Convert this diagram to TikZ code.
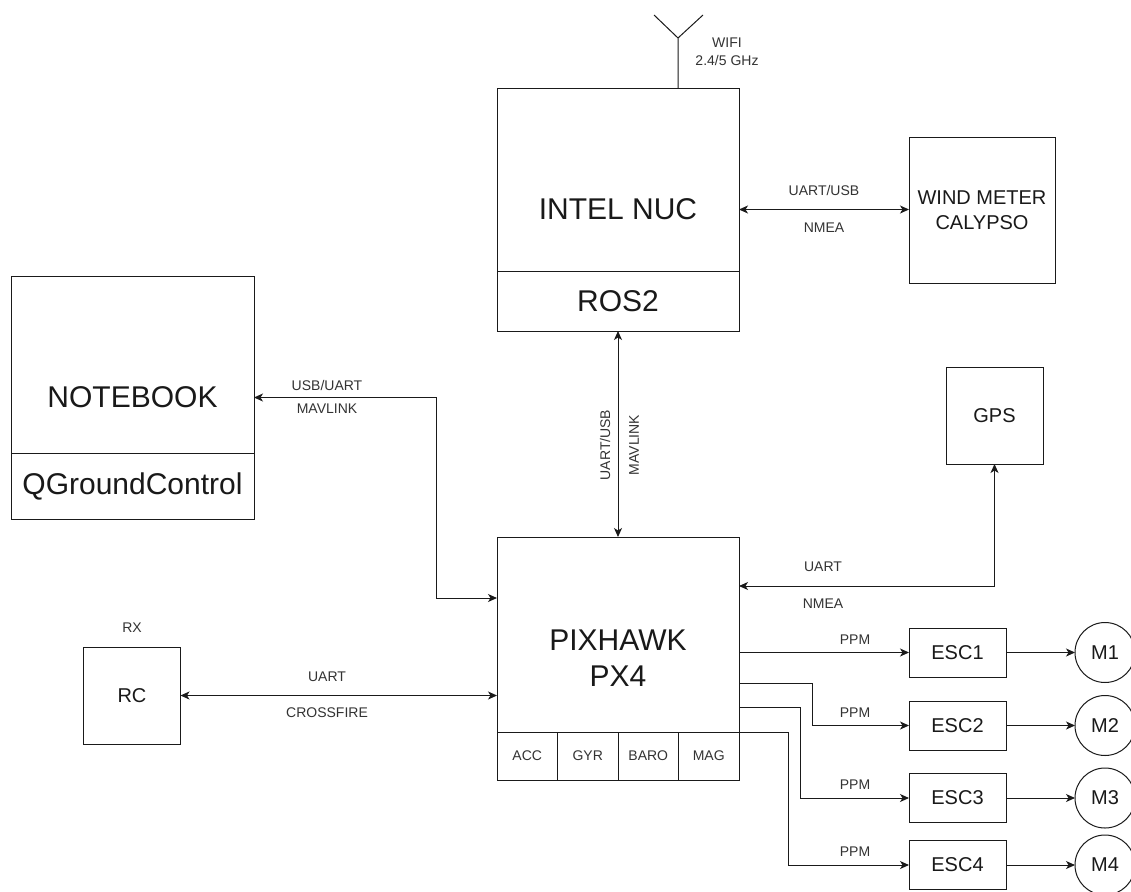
\documentclass[tikz,border=0pt]{standalone}
\usepackage{fontspec}
\setmainfont{Liberation Sans}
\usetikzlibrary{positioning, arrows.meta, calc}
\definecolor{wire}{HTML}{1A1A1A}
\definecolor{labeltext}{HTML}{333333}
\tikzset{
  block/.style={
    draw=wire,
    line width=1pt,
    fill=white,
    outer sep=0pt,
    inner sep=0pt,
    align=center,
    text=black!90
  },
  bigtext/.style={font=\fontsize{30}{36}\selectfont},
  midtext/.style={font=\fontsize{20}{25}\selectfont},
  celltext/.style={font=\fontsize{14}{17}\selectfont, text=labeltext},
  wirelabel/.style={
    font=\fontsize{14}{18}\selectfont,
    text=labeltext,
    inner sep=0pt,
    align=center
  },
  motor/.style={block, circle, midtext, minimum size=60pt},
  link/.style={-{Stealth[length=9pt, width=8pt, inset=2.5pt]}, line width=1pt, draw=wire},
  duplex/.style={{Stealth[length=9pt, width=8pt, inset=2.5pt]}-{Stealth[length=9pt, width=8pt, inset=2.5pt]}, line width=1pt, draw=wire}
}

\begin{document}
\begin{tikzpicture}[x=1pt, y=-1pt]
  \fill[white] (0,0) rectangle (1131,891);
  \useasboundingbox (0,0) rectangle (1131,891);

  % companion computer
  \node[block, bigtext, minimum width=242pt, minimum height=243pt] (nuc) at (618,209.5) {INTEL NUC};
  \node[block, bigtext, minimum width=242pt, minimum height=60pt, anchor=south] (ros) at (nuc.south) {ROS2};
  \node[block, midtext, minimum size=146pt] (wind) at (982,210) {WIND METER\\CALYPSO};

  \coordinate (ant) at (678,38);
  \draw[line width=1pt, wire] (ant |- nuc.north) -- (ant) -- ++(-24,-23) (ant) -- ++(25,-23);
  \node[wirelabel] (wifi) at (727,52) {WIFI\\2.4/5 GHz};

  % ground station
  \node[block, bigtext, minimum width=243pt, minimum height=243pt] (nb) at (132.5,397.5) {NOTEBOOK};
  \node[block, bigtext, minimum width=243pt, minimum height=66pt, anchor=south] (qgc) at (nb.south) {QGroundControl};

  \node[block, midtext, minimum size=97pt] (gps) at (994.5,415.5) {GPS};
  \node[block, midtext, minimum size=97pt] (rc) at (132,695.5) {RC};
  \node[wirelabel, above=14pt of rc] (rx) {RX};

  % flight controller
  \node[block, bigtext, minimum width=242pt, minimum height=243pt] (px) at (618,658.5) {PIXHAWK\\PX4};
  \node[block, celltext, minimum width=60.5pt, minimum height=48pt, anchor=south west] (acc) at (px.south west) {ACC};
  \node[block, celltext, minimum width=60.5pt, minimum height=48pt, right=0pt of acc] (gyr) {GYR};
  \node[block, celltext, minimum width=60.5pt, minimum height=48pt, right=0pt of gyr] (baro) {BARO};
  \node[block, celltext, minimum width=60.5pt, minimum height=48pt, right=0pt of baro] (mag) {MAG};

  % escs and motors
  \node[block, midtext, minimum width=97pt, minimum height=49pt] (esc1) at (957.5,652.5) {ESC1};
  \node[block, midtext, minimum width=97pt, minimum height=49pt] (esc2) at (957.5,725.5) {ESC2};
  \node[block, midtext, minimum width=97pt, minimum height=49pt] (esc3) at (957.5,798) {ESC3};
  \node[block, midtext, minimum width=97pt, minimum height=49pt] (esc4) at (957.5,865) {ESC4};
  \node[motor] (m1) at (1105,652.5) {M1};
  \node[motor] (m2) at (1105,725.5) {M2};
  \node[motor] (m3) at (1105,798) {M3};
  \node[motor] (m4) at (1105,865) {M4};

  % connections
  \draw[duplex] (nuc.east) -- (nuc.east -| wind.west)
    node[wirelabel, midway, yshift=19pt] (windup) {UART/USB}
    node[wirelabel, midway, yshift=-18pt] (winddown) {NMEA};

  \draw[duplex] (ros.south) -- (px.north);
  \node[wirelabel, rotate=90] (rosup) at (605,445) {UART/USB};
  \node[wirelabel, rotate=90] (rosdown) at (634,445) {MAVLINK};

  \coordinate (nbbend) at (436,598);
  \draw[duplex] (nb.east) -| (nbbend) -- (nbbend -| px.west);
  \node[wirelabel] (nbup) at (327,385) {USB/UART};
  \node[wirelabel] (nbdown) at (327,409) {MAVLINK};

  \draw[duplex] (gps.south) |- ([yshift=72.5pt]px.east);
  \node[wirelabel] (gpsup) at (823,567) {UART};
  \node[wirelabel] (gpsdown) at (823,604) {NMEA};

  \draw[duplex] (rc.east) -- (rc.east -| px.west);
  \node[wirelabel] (rcup) at (327,677) {UART};
  \node[wirelabel] (rcdown) at (327,713) {CROSSFIRE};

  \draw[link] (px.east |- esc1.west) -- (esc1.west);
  \draw[link] ([yshift=-24.5pt]px.east) -- ++(73,0) |- (esc2.west);
  \draw[link] ([yshift=-48.5pt]px.east) -- ++(61,0) |- (esc3.west);
  \draw[link] (mag.north east) -- ++(49,0) |- (esc4.west);
  \node[wirelabel] (ppm1) at (855,640) {PPM};
  \node[wirelabel] (ppm2) at (855,713) {PPM};
  \node[wirelabel] (ppm3) at (855,785) {PPM};
  \node[wirelabel] (ppm4) at (855,852) {PPM};

  \draw[link] (esc1) -- (m1);
  \draw[link] (esc2) -- (m2);
  \draw[link] (esc3) -- (m3);
  \draw[link] (esc4) -- (m4);
\end{tikzpicture}
\end{document}
